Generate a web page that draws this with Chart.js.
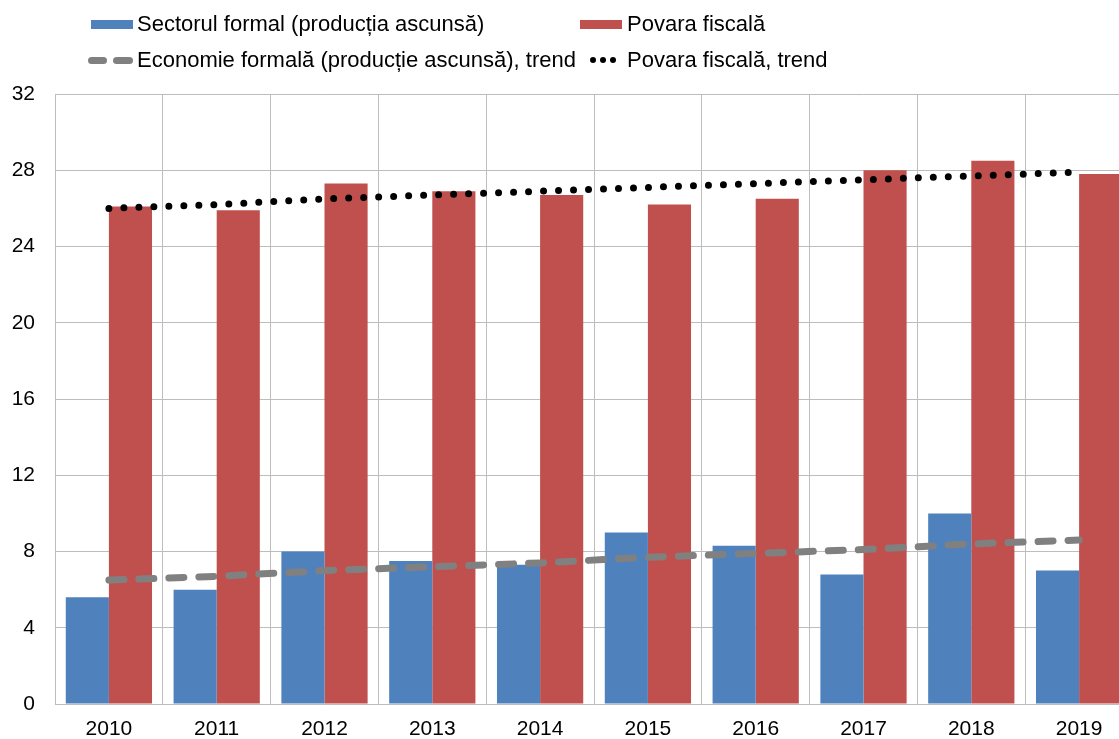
<!DOCTYPE html>
<html>
<head>
<meta charset="utf-8">
<script src="https://cdn.jsdelivr.net/npm/chart.js@4.4.1/dist/chart.umd.min.js"></script>
<style>
  html, body { margin: 0; padding: 0; background: #fff; overflow: hidden; }
  #wrap { position: relative; width: 1119px; height: 739px; overflow: hidden; }
  #chart { position: absolute; left: 0; top: 0; }
  .leg { position: absolute; font: 22px 'Liberation Sans', Arial, sans-serif; color: #000; white-space: nowrap; line-height: 24px; }
  .sw { position: absolute; }
</style>
</head>
<body>
<div id="wrap">
  <canvas id="chart" width="1140" height="739"></canvas>
</div>
<script>
'use strict';

// values
var years = ['2010', '2011', '2012', '2013', '2014', '2015', '2016', '2017', '2018', '2019'];
var formalSector = [5.6, 6.0, 8.0, 7.5, 7.3, 9.0, 8.3, 6.8, 10.0, 7.0];
var fiscalBurden = [26.1, 25.9, 27.3, 26.9, 26.7, 26.2, 26.5, 28.0, 28.5, 27.8];
var formalTrend = [6.5, 6.7, 7.0, 7.2, 7.4, 7.7, 7.9, 8.1, 8.4, 8.6];
var fiscalTrend = [26.0, 26.2, 26.5, 26.7, 26.9, 27.1, 27.3, 27.5, 27.7, 27.9];
var seriesLabels = [
  'Sectorul formal (producția ascunsă)',
  'Povara fiscală',
  'Economie formală (producție ascunsă), trend',
  'Povara fiscală, trend'
];

var fontFamily = "'Liberation Sans', Arial, sans-serif";
var gridColor = '#bdbdbd';

// legend, two rows like the original
var wrap = document.getElementById('wrap');
function addLegend(x, y, text) {
  var d = document.createElement('div');
  d.className = 'leg';
  d.style.left = x + 'px';
  d.style.top = (y - 12) + 'px';
  d.textContent = text;
  wrap.appendChild(d);
}
function addBox(x, y, w, h, color, radius) {
  var d = document.createElement('div');
  d.className = 'sw';
  d.style.left = x + 'px';
  d.style.top = y + 'px';
  d.style.width = w + 'px';
  d.style.height = h + 'px';
  d.style.background = color;
  if (radius) d.style.borderRadius = radius;
  wrap.appendChild(d);
}

addBox(91, 20, 42, 9, '#4f81bd');
addLegend(137, 24, seriesLabels[0]);
addBox(580, 20, 42, 9, '#c0504d');
addLegend(627, 24, seriesLabels[1]);

addBox(88, 57, 19, 7, '#808080', '3.5px');
addBox(113, 57, 20, 7, '#808080', '3.5px');
addLegend(137, 60, seriesLabels[2]);
[593, 603, 613].forEach(function (cx) {
  addBox(cx - 3, 57, 6, 6, '#000', '50%');
});
addLegend(627, 60, seriesLabels[3]);

var ctx = document.getElementById('chart');
var chart = new Chart(ctx, {
  type: 'bar',
  data: {
    labels: years,
    datasets: [
      {
        type: 'line',
        label: seriesLabels[3],
        data: fiscalTrend,
        borderColor: '#000',
        borderWidth: 7,
        borderDash: [0, 15],
        borderCapStyle: 'round',
        pointRadius: 0,
        tension: 0,
        fill: false,
        order: 0
      },
      {
        type: 'line',
        label: seriesLabels[2],
        data: formalTrend,
        borderColor: '#808080',
        borderWidth: 7,
        borderDash: [15, 15],
        borderCapStyle: 'round',
        pointRadius: 0,
        tension: 0,
        fill: false,
        order: 0
      },
      {
        label: seriesLabels[0],
        data: formalSector,
        backgroundColor: '#4f81bd',
        categoryPercentage: 0.8,
        barPercentage: 1,
        order: 1
      },
      {
        label: seriesLabels[1],
        data: fiscalBurden,
        backgroundColor: '#c0504d',
        categoryPercentage: 0.8,
        barPercentage: 1,
        order: 1
      }
    ]
  },
  options: {
    responsive: false,
    animation: false,
    devicePixelRatio: 1,
    layout: { padding: { top: 94, right: 7, left: 0, bottom: 0 } },
    plugins: {
      legend: { display: false },
      tooltip: { enabled: false }
    },
    scales: {
      x: {
        grid: { color: gridColor, lineWidth: 1, drawTicks: false, offset: true },
        border: { color: gridColor },
        ticks: {
          color: '#000',
          font: { size: 21, family: fontFamily },
          padding: 13,
          maxRotation: 0,
          autoSkip: false
        },
        afterFit: function (scale) { scale.height = 35; }
      },
      y: {
        min: 0,
        max: 32,
        grid: { color: gridColor, lineWidth: 1, drawTicks: false },
        border: { color: gridColor },
        ticks: {
          stepSize: 4,
          color: '#000',
          font: { size: 21, family: fontFamily },
          padding: 20
        },
        afterFit: function (scale) { scale.width = 55; }
      }
    }
  }
});
</script>
</body>
</html>
